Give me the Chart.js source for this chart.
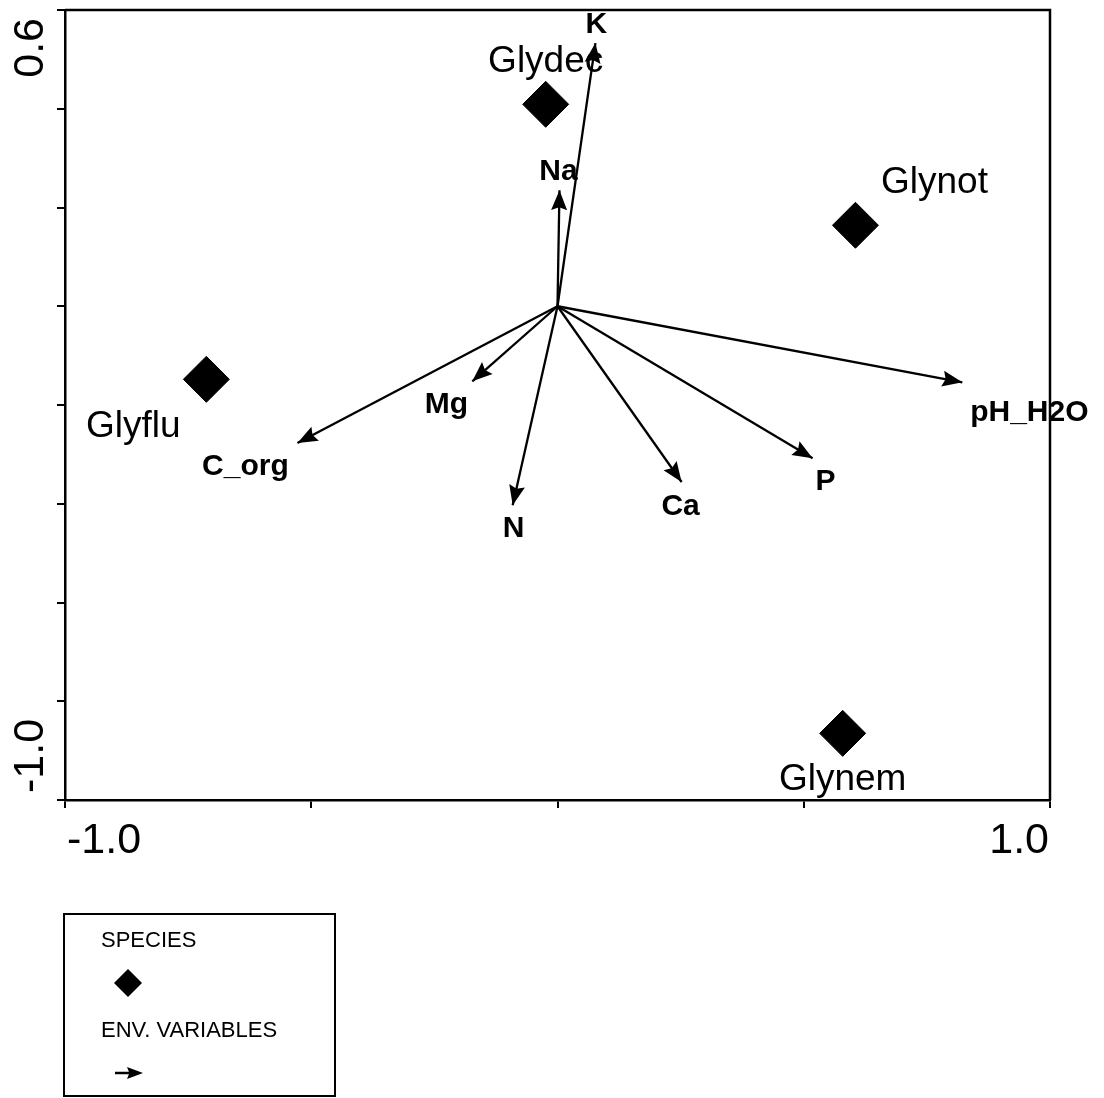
<!DOCTYPE html>
<html>
<head>
<meta charset="utf-8">
<title>Ordination biplot</title>
<script src="https://cdn.jsdelivr.net/npm/chart.js@4.4.1/dist/chart.umd.min.js"></script>
<style>
  html, body { margin: 0; padding: 0; background: #fff; }
  #wrap { width: 1104px; height: 1098px; position: relative; }
</style>
</head>
<body>
<div id="wrap"><canvas id="biplot"></canvas></div>
<script>
  // ────────── Data ──────────
  const speciesNames = ['Glydec', 'Glynot', 'Glyflu', 'Glynem'];
  const speciesX = [-0.024, 0.605, -0.713, 0.579];
  const speciesY = [0.409, 0.164, -0.148, -0.865];

  const envNames = ['K', 'Na', 'pH_H2O', 'P', 'Ca', 'N', 'Mg', 'C_org'];
  const envX = [0.077, 0.004, 0.822, 0.518, 0.252, -0.091, -0.173, -0.528];
  const envY = [0.533, 0.235, -0.154, -0.308, -0.356, -0.403, -0.152, -0.277];

  const xTickValues = [-1.0, 1.0];
  const xTickLabels = ['-1.0', '1.0'];
  const yTickValues = [-1.0, 0.6];
  const yTickLabels = ['-1.0', '0.6'];

  // where each label sits relative to its mark (px: centre x, baseline y)
  const speciesLabelOffset = { Glydec: [0, -32], Glynot: [79, -32], Glyflu: [-73, 58], Glynem: [0, 57] };
  const envLabelOffset = {
    K: [1, -10], Na: [-1, -10], pH_H2O: [67, 39], P: [13, 32],
    Ca: [-1, 33], N: [1, 32], Mg: [-26, 32], C_org: [-52, 32]
  };

  const FONT = '"Liberation Sans", Arial, sans-serif';
  Chart.defaults.font.family = FONT;

  // ────────── Helpers ──────────
  function arrowHead(ctx, x0, y0, x1, y1, len, half) {
    const a = Math.atan2(y1 - y0, x1 - x0);
    const c = Math.cos(a), s = Math.sin(a);
    const bx = x1 - len * c, by = y1 - len * s;
    ctx.beginPath();
    ctx.moveTo(x1, y1);
    ctx.lineTo(bx + half * s, by - half * c);
    ctx.lineTo(x1 - len * 0.85 * c, y1 - len * 0.85 * s);
    ctx.lineTo(bx - half * s, by + half * c);
    ctx.closePath();
    ctx.fill();
  }

  function diamond(ctx, x, y, r) {
    ctx.beginPath();
    ctx.moveTo(x - r, y);
    ctx.lineTo(x, y - r);
    ctx.lineTo(x + r, y);
    ctx.lineTo(x, y + r);
    ctx.closePath();
    ctx.fill();
  }

  // ────────── Overlay: arrowheads, labels, frame, legend ──────────
  const biplotOverlay = {
    id: 'biplot-overlay',
    afterDraw(chart) {
      const { ctx, chartArea: area, scales: { x, y } } = chart;
      ctx.save();
      ctx.fillStyle = '#000';
      ctx.strokeStyle = '#000';

      // arrowheads
      const ox = x.getPixelForValue(0), oy = y.getPixelForValue(0);
      envNames.forEach((n, i) => {
        arrowHead(ctx, ox, oy, x.getPixelForValue(envX[i]), y.getPixelForValue(envY[i]), 20, 8);
      });

      // env labels
      ctx.textAlign = 'center';
      ctx.textBaseline = 'alphabetic';
      ctx.font = 'bold 30px ' + FONT;
      envNames.forEach((n, i) => {
        const [dx, dy] = envLabelOffset[n];
        ctx.fillText(n, x.getPixelForValue(envX[i]) + dx, y.getPixelForValue(envY[i]) + dy);
      });

      // species labels
      ctx.font = '37px ' + FONT;
      speciesNames.forEach((n, i) => {
        const [dx, dy] = speciesLabelOffset[n];
        ctx.fillText(n, x.getPixelForValue(speciesX[i]) + dx, y.getPixelForValue(speciesY[i]) + dy);
      });

      // frame (top + right sides)
      ctx.lineWidth = 2.5;
      ctx.beginPath();
      ctx.moveTo(area.left, area.top);
      ctx.lineTo(area.right, area.top);
      ctx.lineTo(area.right, area.bottom);
      ctx.stroke();

      // tick labels, pushed inward at the ends
      ctx.font = '43px ' + FONT;
      xTickValues.forEach((v, i) => {
        const px = x.getPixelForValue(v);
        ctx.textAlign = i === 0 ? 'left' : 'right';
        ctx.fillText(xTickLabels[i], px + (i === 0 ? 2 : -1), area.bottom + 53);
      });
      yTickValues.forEach((v, i) => {
        const py = y.getPixelForValue(v);
        ctx.save();
        ctx.translate(area.left - 22, py + (i === 0 ? -7 : 8));
        ctx.rotate(-Math.PI / 2);
        ctx.textAlign = i === 0 ? 'left' : 'right';
        ctx.fillText(yTickLabels[i], 0, 0);
        ctx.restore();
      });

      // legend box
      const lx = area.left - 1, ly = 914;
      ctx.lineWidth = 2;
      ctx.strokeRect(lx, ly, 271, 182);
      ctx.font = '22px ' + FONT;
      ctx.textAlign = 'left';
      ctx.fillText('SPECIES', lx + 37, ly + 33);
      diamond(ctx, lx + 64, ly + 69, 14);
      ctx.fillText('ENV. VARIABLES', lx + 37, ly + 123);
      ctx.lineWidth = 2.5;
      ctx.beginPath();
      ctx.moveTo(lx + 51, ly + 159);
      ctx.lineTo(lx + 70, ly + 159);
      ctx.stroke();
      arrowHead(ctx, lx + 51, ly + 159, lx + 79, ly + 159, 16, 6);

      ctx.restore();
    }
  };

  // ────────── Chart ──────────
  const arrowSets = envNames.map((n, i) => ({
    label: n,
    type: 'line',
    data: [{ x: 0, y: 0 }, { x: envX[i], y: envY[i] }],
    borderColor: '#000',
    borderWidth: 2.3,
    pointRadius: 0,
    fill: false,
    tension: 0
  }));

  new Chart(document.getElementById('biplot').getContext('2d'), {
    type: 'scatter',
    data: {
      datasets: [
        {
          label: 'SPECIES',
          data: speciesNames.map((n, i) => ({ x: speciesX[i], y: speciesY[i] })),
          pointStyle: 'rectRot',
          pointRadius: 23,
          pointHoverRadius: 23,
          backgroundColor: '#000',
          borderColor: '#000',
          borderWidth: 1
        },
        ...arrowSets
      ]
    },
    options: {
      responsive: true,
      maintainAspectRatio: false,
      animation: false,
      events: [],
      layout: { autoPadding: false, padding: { top: 10, right: 54, left: 0, bottom: 0 } },
      plugins: { legend: { display: false }, tooltip: { enabled: false } },
      scales: {
        x: {
          type: 'linear', min: -1, max: 1,
          ticks: { stepSize: 0.5, display: false },
          grid: { drawOnChartArea: false, drawTicks: true, tickLength: 8, color: '#000', lineWidth: 2 },
          border: { display: true, color: '#000', width: 2.5 },
          afterFit(scale) { scale.height = 298; }
        },
        y: {
          type: 'linear', min: -1, max: 0.6,
          ticks: { stepSize: 0.2, display: false },
          grid: { drawOnChartArea: false, drawTicks: true, tickLength: 8, color: '#000', lineWidth: 2 },
          border: { display: true, color: '#000', width: 2.5 },
          afterFit(scale) { scale.width = 65; }
        }
      }
    },
    plugins: [biplotOverlay]
  });
</script>
</body>
</html>
